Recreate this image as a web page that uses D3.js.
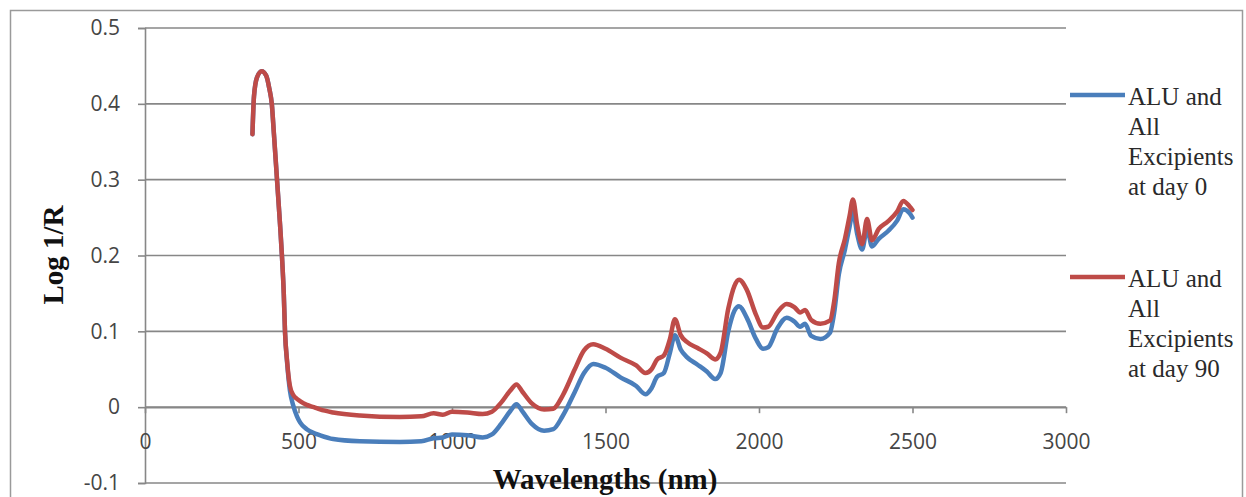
<!DOCTYPE html>
<html>
<head>
<meta charset="utf-8">
<script src="https://cdn.jsdelivr.net/npm/d3@7"></script>
<style>
  html, body { margin: 0; padding: 0; background: #fff; }
  svg { display: block; }
</style>
</head>
<body>
<svg id="chart" width="1246" height="497"></svg>
<script>
// ---- data ----
const wavelengths = [350,355,365,380,395,405,413,420,430,440,446,452,456,463,472,483,495,505,527,550,570,613,700,830,900,940,970,1000,1050,1100,1130,1160,1190,1210,1230,1260,1300,1330,1360,1400,1430,1460,1500,1550,1600,1630,1650,1668,1690,1710,1726,1745,1765,1800,1830,1857,1875,1900,1920,1935,1960,1990,2013,2030,2060,2090,2115,2134,2150,2170,2200,2231,2245,2260,2280,2295,2306,2320,2336,2352,2368,2390,2420,2450,2470,2490,2500];
const day0 = [0.360,0.410,0.435,0.443,0.437,0.420,0.400,0.360,0.300,0.240,0.200,0.150,0.100,0.058,0.022,0.002,-0.012,-0.020,-0.029,-0.034,-0.037,-0.042,-0.045,-0.046,-0.045,-0.041,-0.040,-0.036,-0.037,-0.040,-0.036,-0.022,-0.005,0.004,-0.006,-0.022,-0.031,-0.029,-0.012,0.020,0.045,0.057,0.052,0.039,0.028,0.017,0.025,0.040,0.045,0.072,0.095,0.076,0.066,0.056,0.047,0.037,0.045,0.100,0.127,0.133,0.118,0.090,0.077,0.079,0.104,0.118,0.113,0.106,0.110,0.094,0.090,0.098,0.125,0.175,0.208,0.238,0.258,0.228,0.208,0.235,0.212,0.222,0.232,0.246,0.261,0.256,0.250];
const day90 = [0.360,0.410,0.435,0.443,0.437,0.420,0.400,0.360,0.300,0.240,0.200,0.150,0.100,0.060,0.028,0.016,0.011,0.008,0.003,0.000,-0.003,-0.007,-0.011,-0.013,-0.012,-0.008,-0.010,-0.006,-0.007,-0.009,-0.006,0.006,0.022,0.030,0.020,0.005,-0.003,-0.002,0.015,0.050,0.075,0.083,0.077,0.065,0.055,0.045,0.050,0.063,0.068,0.090,0.116,0.095,0.086,0.078,0.071,0.063,0.072,0.130,0.160,0.168,0.155,0.122,0.105,0.106,0.125,0.136,0.132,0.125,0.128,0.115,0.110,0.114,0.140,0.190,0.222,0.252,0.274,0.240,0.215,0.248,0.220,0.235,0.245,0.258,0.272,0.265,0.260];
const seriesNames = [["ALU and","All","Excipients","at day 0"],["ALU and","All","Excipients","at day 90"]];
const seriesColors = ["#4A7EBB","#BE4B48"];
const xTicks = [0,500,1000,1500,2000,2500,3000];
const xTickLabels = ["0","500","1000","1500","2000","2500","3000"];
const yTicks = [-0.1,0,0.1,0.2,0.3,0.4,0.5];
const yTickLabels = ["-0.1","0","0.1","0.2","0.3","0.4","0.5"];
const xTitle = "Wavelengths (nm)";
const yTitle = "Log 1/R";

// ---- layout ----
const svg = d3.select("#chart");
const pLeft = 145, pRight = 1066, pTop = 28, pBottom = 483;
const x = d3.scaleLinear().domain([0,3000]).range([pLeft,pRight]);
const y = d3.scaleLinear().domain([-0.1,0.5]).range([pBottom,pTop]);
const gridColor = "#878787";

// outer frame
svg.append("rect").attr("x",10.5).attr("y",10.5).attr("width",1232).attr("height",520)
  .attr("fill","none").attr("stroke","#9a9a9a").attr("stroke-width",1.5);

// gridlines
svg.append("g").selectAll("line").data(yTicks).join("line")
  .attr("x1",pLeft).attr("x2",pRight)
  .attr("y1",d=>y(d)).attr("y2",d=>y(d))
  .attr("stroke",gridColor).attr("stroke-width",1.6);

// y axis
const yAxis = d3.axisLeft(y).tickValues(yTicks)
  .tickFormat((d,i)=>yTickLabels[i]).tickSize(7).tickPadding(18);
const gy = svg.append("g").attr("transform",`translate(${pLeft},0)`).call(yAxis);
gy.select(".domain").attr("stroke",gridColor).attr("stroke-width",1.6);
gy.selectAll(".tick line").attr("stroke",gridColor).attr("stroke-width",1.6);
gy.selectAll("text").attr("font-family","'Open Sans', sans-serif").attr("font-size",21).attr("fill","#454545");

// x axis at y=0
const xAxis = d3.axisBottom(x).tickValues(xTicks)
  .tickFormat((d,i)=>xTickLabels[i]).tickSize(6).tickPadding(21).tickSizeOuter(0);
const gx = svg.append("g").attr("transform",`translate(0,${y(0)})`).call(xAxis);
gx.select(".domain").attr("stroke",gridColor).attr("stroke-width",1.6);
gx.selectAll(".tick line").attr("stroke",gridColor).attr("stroke-width",1.6);
gx.selectAll("text").attr("font-family","'Open Sans', sans-serif").attr("font-size",21).attr("fill","#454545");

// lines
const series = [day0, day90];
const line = d3.line().x((d,i)=>x(wavelengths[i])).y(d=>y(d)).curve(d3.curveMonotoneX);
series.forEach((s,k)=>{
  svg.append("path").datum(s).attr("d",line)
    .attr("fill","none").attr("stroke",seriesColors[k]).attr("stroke-width",4.5)
    .attr("stroke-linejoin","round").attr("stroke-linecap","round");
});

// axis titles
svg.append("text").attr("x",605).attr("y",489).attr("text-anchor","middle")
  .attr("font-family","'Liberation Serif', serif").attr("font-weight","bold")
  .attr("font-size",29).attr("fill","#111").text(xTitle);
svg.append("text").attr("transform","translate(63,255) rotate(-90)").attr("text-anchor","middle")
  .attr("font-family","'Liberation Serif', serif").attr("font-weight","bold")
  .attr("font-size",29).attr("fill","#111").text(yTitle);

// legend
const legendY = [95, 277];
seriesNames.forEach((lines,k)=>{
  const g = svg.append("g");
  g.append("line").attr("x1",1070).attr("x2",1125).attr("y1",legendY[k]).attr("y2",legendY[k])
    .attr("stroke",seriesColors[k]).attr("stroke-width",4.5);
  const t = g.append("text").attr("font-family","'Liberation Serif', serif").attr("font-size",25).attr("fill","#2a2a2a");
  lines.forEach((ln,j)=>{
    t.append("tspan").attr("x",1128).attr("y",legendY[k]+10+j*30).text(ln);
  });
});
</script>
</body>
</html>
